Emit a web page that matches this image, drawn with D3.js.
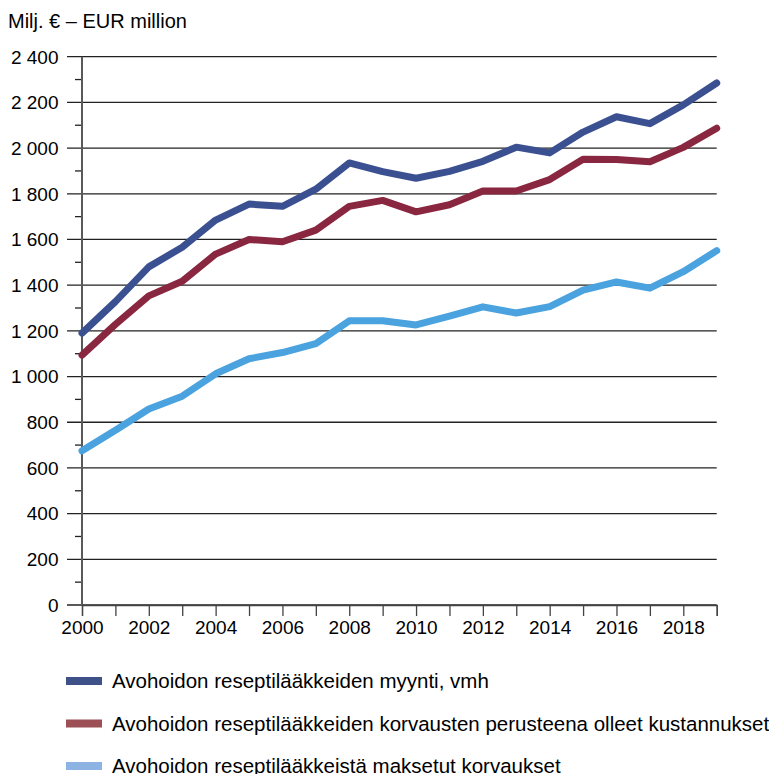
<!DOCTYPE html>
<html>
<head>
<meta charset="utf-8">
<script src="https://cdn.jsdelivr.net/npm/d3@7"></script>
<style>
  body { margin: 0; background: #fff; }
  text { font-family: "Liberation Sans", Arial, sans-serif; fill: #000; }
</style>
</head>
<body>
<svg id="chart"></svg>
<script>
const years = d3.range(2000, 2020);
const sales = [1190, 1328, 1480, 1566, 1685, 1755, 1745, 1820, 1935, 1897, 1868, 1898, 1942, 2004, 1979, 2070, 2137, 2107, 2189, 2285];
const basisCosts = [1094, 1228, 1353, 1417, 1536, 1600, 1590, 1641, 1745, 1771, 1721, 1752, 1812, 1812, 1862, 1951, 1950, 1940, 2003, 2087];
const reimbursed = [675, 765, 858, 914, 1012, 1078, 1105, 1144, 1244, 1244, 1226, 1264, 1305, 1278, 1306, 1378, 1414, 1387, 1459, 1551];
const yTicks = d3.range(0, 2401, 200);
const xLabels = d3.range(2000, 2019, 2);

const seriesNames = [
  "Avohoidon reseptilääkkeiden myynti, vmh",
  "Avohoidon reseptilääkkeiden korvausten perusteena olleet kustannukset",
  "Avohoidon reseptilääkkeistä maksetut korvaukset"
];
const lineColors = ["#3b5090", "#8a2740", "#4aa2de"];
const swatchColors = ["#3e5189", "#9c4f55", "#8db3e2"];

const width = 769, height = 774;
const svg = d3.select("#chart").attr("width", width).attr("height", height);

const x = d3.scaleLinear().domain([2000, 2019]).range([82, 716.7]);
const y = d3.scaleLinear().domain([0, 2400]).range([605, 56.7]);

// title
svg.append("text")
  .attr("x", 8).attr("y", 27.5)
  .style("font-size", "20px")
  .text("Milj. € – EUR million");

// gridlines
svg.append("g")
  .selectAll("line")
  .data(yTicks)
  .join("line")
    .attr("x1", 67).attr("x2", x(2019))
    .attr("y1", d => y(d)).attr("y2", d => y(d))
    .attr("stroke", "#222")
    .attr("stroke-width", 1.3);

// minor ticks on y axis
svg.append("g")
  .selectAll("line")
  .data(d3.range(100, 2400, 200))
  .join("line")
    .attr("x1", 75).attr("x2", 82)
    .attr("y1", d => y(d)).attr("y2", d => y(d))
    .attr("stroke", "#222")
    .attr("stroke-width", 1.3);

// y labels
svg.append("g")
  .selectAll("text")
  .data(yTicks)
  .join("text")
    .attr("x", 58.5)
    .attr("y", d => y(d))
    .attr("dy", "0.36em")
    .attr("text-anchor", "end")
    .style("font-size", "19px")
    .text(d => d3.format(",")(d).replace(/,/g, " "));

// y axis line
svg.append("line")
  .attr("x1", 82).attr("x2", 82)
  .attr("y1", y(2400)).attr("y2", y(0))
  .attr("stroke", "#595959")
  .attr("stroke-width", 2);

// x axis
const xAxis = svg.append("g")
  .attr("transform", `translate(0,${y(0)})`)
  .call(d3.axisBottom(x)
    .tickValues(years)
    .tickSize(11)
    .tickFormat(d => xLabels.includes(d) ? d : ""));
xAxis.select(".domain").attr("stroke", "#444").attr("stroke-width", 1.3);
xAxis.selectAll(".tick line").attr("stroke", "#444").attr("stroke-width", 1.3);
xAxis.selectAll(".tick text")
  .attr("y", 29)
  .attr("dy", null)
  .style("font-size", "19px")
  .style("font-family", "'Liberation Sans', Arial, sans-serif")
  .attr("fill", "#000");

// lines
const line = d3.line()
  .x((d, i) => x(years[i]))
  .y(d => y(d));

svg.append("g")
  .selectAll("path")
  .data([reimbursed, basisCosts, sales])
  .join("path")
    .attr("d", line)
    .attr("fill", "none")
    .attr("stroke", (d, i) => lineColors[2 - i])
    .attr("stroke-width", 7)
    .attr("stroke-linejoin", "round")
    .attr("stroke-linecap", "round");

// legend
const legend = svg.append("g")
  .selectAll("g")
  .data(seriesNames)
  .join("g")
    .attr("transform", (d, i) => `translate(66,${681 + i * 42.5})`);

legend.append("rect")
  .attr("x", 0).attr("y", -4)
  .attr("width", 36).attr("height", 8)
  .attr("fill", (d, i) => swatchColors[i]);

legend.append("text")
  .attr("x", 46).attr("y", 0)
  .attr("dy", "0.35em")
  .style("font-size", "20.5px")
  .text(d => d);
</script>
</body>
</html>
